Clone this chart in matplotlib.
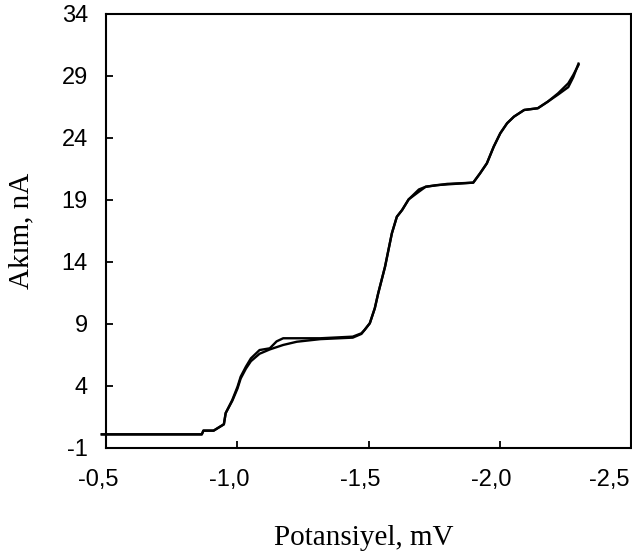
import matplotlib
matplotlib.use("Agg")
import matplotlib.pyplot as plt
import matplotlib.transforms as mtransforms

# forward sweep
pot_a = [-0.484, -0.865, -0.871, -0.910, -0.949, -0.956, -0.981, -1.001, -1.013, -1.033,
         -1.052, -1.085, -1.124, -1.150, -1.175, -1.317, -1.440, -1.473, -1.485, -1.505,
         -1.524, -1.537, -1.550, -1.563, -1.576, -1.589, -1.608, -1.628, -1.653, -1.692,
         -1.718, -1.760, -1.899, -1.925, -1.951, -1.977, -2.002, -2.028, -2.054, -2.093,
         -2.145, -2.183, -2.222, -2.261, -2.280, -2.300]
cur_a = [0.10, 0.10, 0.40, 0.40, 0.91, 1.82, 2.87, 3.94, 4.75, 5.56,
         6.23, 6.90, 7.04, 7.60, 7.85, 7.85, 7.98, 8.25, 8.52, 9.06,
         10.27, 11.48, 12.55, 13.62, 14.97, 16.31, 17.65, 18.19, 19.05, 19.67,
         20.07, 20.20, 20.40, 21.15, 21.96, 23.30, 24.38, 25.19, 25.72, 26.26,
         26.40, 26.93, 27.60, 28.41, 29.08, 29.89]

# return sweep
pot_b = [-0.484, -0.865, -0.871, -0.910, -0.949, -0.956, -0.981, -1.001, -1.013, -1.033,
         -1.052, -1.085, -1.124, -1.175, -1.227, -1.317, -1.440, -1.473, -1.485, -1.505,
         -1.524, -1.537, -1.550, -1.563, -1.576, -1.589, -1.608, -1.628, -1.653, -1.692,
         -1.718, -1.800, -1.899, -1.925, -1.951, -1.977, -2.002, -2.028, -2.054, -2.093,
         -2.145, -2.183, -2.222, -2.261, -2.280, -2.300]
cur_b = [0.10, 0.10, 0.40, 0.40, 0.91, 1.82, 2.80, 3.80, 4.60, 5.40,
         6.00, 6.60, 6.95, 7.31, 7.57, 7.78, 7.90, 8.20, 8.52, 9.06,
         10.27, 11.48, 12.55, 13.62, 14.97, 16.31, 17.65, 18.19, 19.05, 19.85,
         20.07, 20.30, 20.40, 21.15, 21.96, 23.30, 24.38, 25.19, 25.72, 26.26,
         26.40, 26.93, 27.50, 28.10, 28.90, 30.00]

xticks = [-0.5, -1.0, -1.5, -2.0, -2.5]
xtick_labels = ["-0,5", "-1,0", "-1,5", "-2,0", "-2,5"]
yticks = [-1, 4, 9, 14, 19, 24, 29, 34]

fig = plt.figure(figsize=(6.32, 5.57), dpi=100)
ax = fig.add_axes([106 / 632, 1 - 448 / 557, 525 / 632, 434 / 557])

ax.plot(pot_a, cur_a, color="black", lw=1.7, clip_on=False)
ax.plot(pot_b, cur_b, color="black", lw=1.7, clip_on=False)

ax.set_xlim(-0.5, -2.5)
ax.set_ylim(-1, 34)
ax.set_xticks(xticks)
ax.set_xticklabels(xtick_labels)
ax.set_yticks(yticks)
ax.set_yticklabels([str(v) for v in yticks])

for s in ax.spines.values():
    s.set_linewidth(1.5)
ax.tick_params(direction="in", length=5, width=1.3)
ax.tick_params(axis="x", pad=15)
ax.tick_params(axis="y", pad=13)
for lab in ax.get_xticklabels() + ax.get_yticklabels():
    lab.set_fontfamily("Liberation Sans")
    lab.set_fontsize(17)

# x labels sit a little left of their ticks in the original
xlabs = ax.get_xticklabels()
shift = mtransforms.ScaledTranslation(-8 / 100, 0, fig.dpi_scale_trans)
for lab in xlabs[:-1]:
    lab.set_transform(lab.get_transform() + shift)
xlabs[-1].set_horizontalalignment("right")
xlabs[-1].set_transform(xlabs[-1].get_transform()
                        + mtransforms.ScaledTranslation(-2 / 100, 0, fig.dpi_scale_trans))

ax.set_xlabel("Potansiyel, mV", family="Liberation Serif", fontsize=21, va="center")
ax.xaxis.set_label_coords(0.49, -0.207)
ax.set_ylabel("Akım, nA", family="Liberation Serif", fontsize=21, va="center")
ax.yaxis.set_label_coords(-0.161, 0.5)

fig.savefig("out.png", dpi=100)
